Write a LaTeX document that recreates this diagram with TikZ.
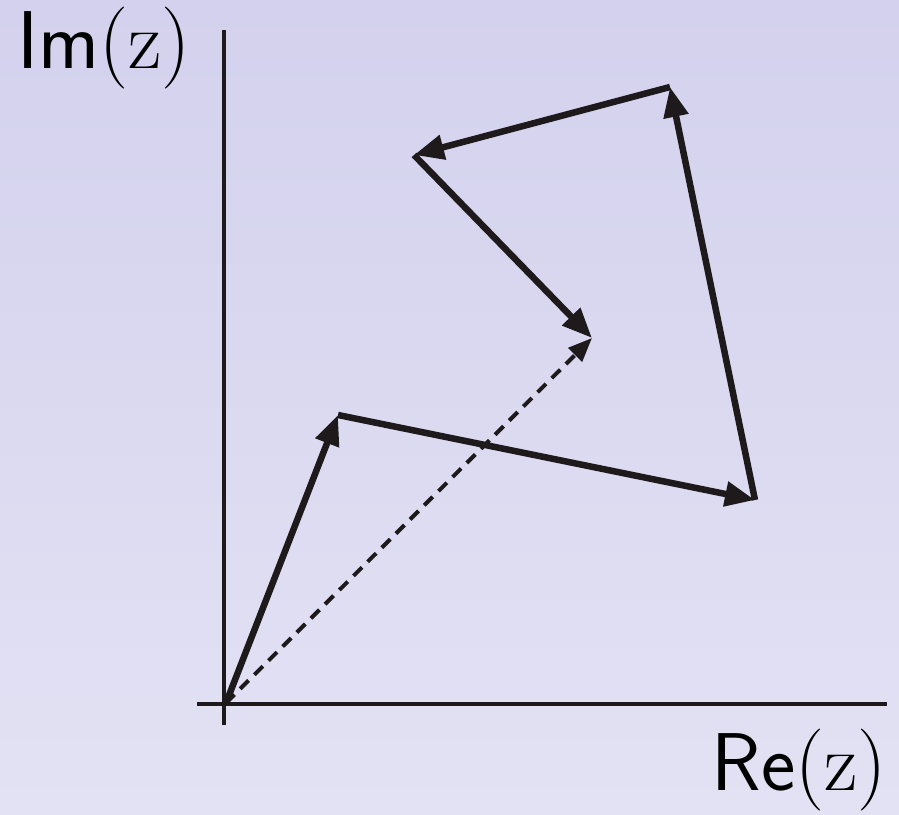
\documentclass[tikz,border=0pt]{standalone}
\usepackage{fontspec}
\usepackage{tikz}
\usetikzlibrary{arrows.meta, positioning}
\usepackage{xcolor}
\definecolor{bgtop}{RGB}{211,209,237}
\definecolor{bgbot}{RGB}{227,226,244}
\definecolor{ink}{RGB}{30,26,28}

\begin{document}
\begin{tikzpicture}[
  x=1pt, y=-1pt,
  axis/.style={draw=ink, line width=4pt},
  vec/.style={draw=ink, line width=6.5pt,
              -{Triangle[length=30pt, width=24pt]}},
  sumvec/.style={draw=ink, line width=4pt, dash pattern=on 12pt off 8pt,
                 -{Triangle[length=24pt, width=19pt]}},
  lbl/.style={text=black, inner sep=0pt, font=\fontsize{82}{90}\selectfont},
]
  \shade[top color=bgtop, bottom color=bgbot] (0,0) rectangle (899,814);
  \useasboundingbox (0,0) rectangle (899,814);

  % axes
  \coordinate (ytop) at (224, 30);
  \coordinate (ybot) at (224, 725);
  \coordinate (xl)   at (197, 704);
  \coordinate (xr)   at (887, 704);
  \draw[axis] (ybot) -- (ytop);
  \draw[axis] (xl) -- (xr);

  \node[lbl, anchor=center] (imlbl) at (104, 48) {{\sffamily Im}(z)};
  \node[lbl, anchor=east]   (relbl) at (887, 770) {{\sffamily Re}(z)};

  % chain of vectors
  \coordinate (o) at (226, 703);
  \coordinate (a) at (338, 415);
  \coordinate (b) at (755, 500);
  \coordinate (c) at (670,  87);
  \coordinate (d) at (414, 155);
  \coordinate (e) at (592, 338);

  \draw[vec] (o) -- (a);
  \draw[vec] (a) -- (b);
  \draw[vec] (b) -- (c);
  \draw[vec] (c) -- (d);
  \draw[vec] (d) -- (e);

  % resultant
  \draw[sumvec] (o) -- (e);
\end{tikzpicture}
\end{document}
